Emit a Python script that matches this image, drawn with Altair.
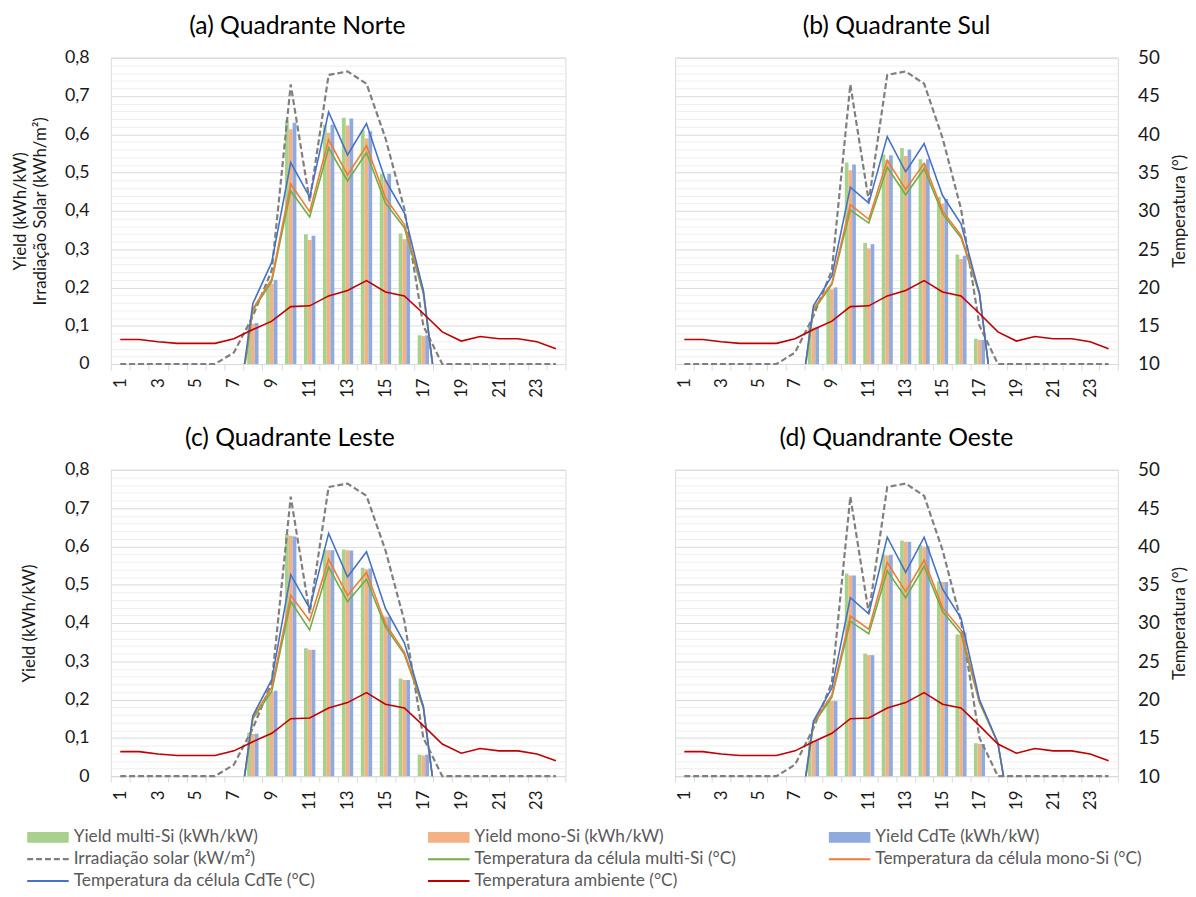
import altair as alt
import pandas as pd

# ---------------- data ----------------
HOURS = list(range(1, 25))

IRRADIACAO = [0, 0, 0, 0, 0, 0, 0.03, 0.125, 0.245, 0.73, 0.425, 0.755,
              0.764, 0.732, 0.59, 0.405, 0.1, 0, 0, 0, 0, 0, 0, 0]
T_AMBIENTE = [13.2, 13.2, 12.9, 12.7, 12.7, 12.7, 13.3, 14.5, 15.6, 17.5, 17.6, 18.9,
              19.6, 20.9, 19.4, 18.9, 16.6, 14.2, 13.0, 13.6, 13.3, 13.3, 12.9, 12.0]

N7 = [0] * 7
# (a) Norte
NORTE_Y_MULTI = N7 + [0.105, 0.21, 0.636, 0.339, 0.625, 0.643, 0.611, 0.497, 0.341, 0.075] + N7
NORTE_Y_MONO = N7 + [0.105, 0.21, 0.613, 0.324, 0.604, 0.623, 0.589, 0.481, 0.326, 0.073] + N7
NORTE_Y_CDTE = N7 + [0.107, 0.22, 0.630, 0.335, 0.625, 0.641, 0.608, 0.497, 0.335, 0.075] + N7
NORTE_T_MULTI = N7 + [17.0, 20.8, 32.6, 29.2, 38.2, 33.9, 37.6, 31.0, 27.8, 19.2] + N7
NORTE_T_MONO = N7 + [17.2, 21.1, 33.5, 29.9, 39.3, 34.7, 38.5, 31.7, 28.2, 19.6] + N7
NORTE_T_CDTE = N7 + [17.9, 23.3, 36.3, 31.8, 42.9, 37.3, 41.4, 34.0, 29.7, 19.6] + N7
# (b) Sul
SUL_Y_MULTI = N7 + [0.097, 0.2, 0.526, 0.316, 0.547, 0.564, 0.535, 0.436, 0.286, 0.066] + N7
SUL_Y_MONO = N7 + [0.095, 0.195, 0.506, 0.302, 0.532, 0.543, 0.523, 0.419, 0.274, 0.063] + N7
SUL_Y_CDTE = N7 + [0.097, 0.2, 0.521, 0.313, 0.545, 0.56, 0.535, 0.431, 0.283, 0.063] + N7
SUL_T_MULTI = N7 + [17.0, 20.4, 30.1, 28.4, 35.7, 32.1, 35.5, 29.6, 26.5, 19.1] + N7
SUL_T_MONO = N7 + [17.2, 20.6, 30.8, 28.9, 36.6, 32.8, 36.2, 30.0, 26.8, 19.3] + N7
SUL_T_CDTE = N7 + [17.6, 21.5, 33.1, 31.0, 39.7, 35.1, 38.8, 32.0, 28.3, 19.2] + N7
# (c) Leste
LESTE_Y_MULTI = N7 + [0.113, 0.225, 0.632, 0.334, 0.591, 0.592, 0.544, 0.42, 0.255, 0.056] + N7
LESTE_Y_MONO = N7 + [0.11, 0.22, 0.628, 0.33, 0.59, 0.59, 0.54, 0.417, 0.251, 0.054] + N7
LESTE_Y_CDTE = N7 + [0.111, 0.223, 0.626, 0.33, 0.59, 0.589, 0.542, 0.416, 0.251, 0.056] + N7
LESTE_T_MULTI = N7 + [17.5, 21.1, 32.8, 29.1, 37.3, 32.8, 35.7, 29.5, 25.9, 18.9] + N7
LESTE_T_MONO = N7 + [17.7, 21.6, 33.6, 30.3, 38.3, 33.6, 36.6, 29.9, 26.2, 19.1] + N7
LESTE_T_CDTE = N7 + [17.9, 22.6, 36.3, 31.9, 41.7, 36.0, 39.3, 31.9, 27.4, 19.1] + N7
# (d) Oeste
OESTE_Y_MULTI = N7 + [0.093, 0.197, 0.529, 0.32, 0.579, 0.615, 0.603, 0.509, 0.37, 0.086] + N7
OESTE_Y_MONO = N7 + [0.092, 0.196, 0.524, 0.316, 0.576, 0.612, 0.599, 0.507, 0.37, 0.084] + N7
OESTE_Y_CDTE = N7 + [0.093, 0.196, 0.524, 0.316, 0.578, 0.612, 0.601, 0.507, 0.375, 0.084] + N7
OESTE_T_MULTI = N7 + [16.8, 20.3, 30.2, 28.6, 36.8, 33.3, 37.4, 31.5, 28.6, 19.6, 14.3] + [0] * 6
OESTE_T_MONO = N7 + [17.0, 20.6, 30.9, 29.2, 37.9, 34.1, 38.2, 32.0, 29.1, 19.8, 14.3] + [0] * 6
OESTE_T_CDTE = N7 + [17.2, 21.5, 33.3, 31.2, 41.2, 36.6, 41.2, 34.4, 30.6, 20.0, 14.3] + [0] * 6

TITLES = ["(a) Quadrante Norte", "(b) Quadrante Sul", "(c) Quadrante Leste", "(d) Quandrante Oeste"]
LEFT_TITLE_A = ["Yield (kWh/kW)", "Irradiação Solar (kWh/m²)"]
LEFT_TITLE_C = "Yield (kWh/kW)"
RIGHT_TITLE = "Temperatura (°)"

BAR_NAMES = ["Yield multi-Si (kWh/kW)", "Yield mono-Si (kWh/kW)", "Yield CdTe (kWh/kW)"]
LINE_NAMES = ["Irradiação solar (kW/m²)", "Temperatura da célula multi-Si (°C)",
              "Temperatura da célula mono-Si (°C)", "Temperatura da célula CdTe (°C)",
              "Temperatura ambiente (°C)"]
BAR_COLORS = ["#A9D18E", "#F4B183", "#8FAADC"]
LINE_COLORS = ["#7F7F7F", "#70AD47", "#ED7D31", "#4472C4", "#C00000"]

# ---------------- style ----------------
FONT = "Lato"
TEXT = "#1a1a1a"
GRID_MAJOR = "#D9D9D9"
GRID_MINOR = "#EFEFEF"
W1, W2, H = 460, 448, 310


def make_panel(title, yields, temps, width, left_title=None, left_title_pad=18,
               show_right=False, title_frame="bounds", title_dx=0):
    df = pd.DataFrame({
        "hour": HOURS,
        "y_multi": yields[0], "y_mono": yields[1], "y_cdte": yields[2],
        "irr": IRRADIACAO,
        "t_multi": temps[0], "t_mono": temps[1], "t_cdte": temps[2],
        "t_amb": T_AMBIENTE,
    })
    base = alt.Chart(df)

    xscale = alt.Scale(domain=[0.5, 24.5], nice=False, zero=False)
    xaxis = alt.Axis(
        values=[h - 0.5 for h in HOURS] + [24.5],
        labelExpr="(datum.value + 0.5) % 2 == 1 && datum.value < 24 ? format(datum.value + 0.5, 'd') : ''",
        labelOffset=width / 48, labelAngle=270, labelOverlap=False, labelFlush=False,
        tickSize=6, tickColor=GRID_MAJOR, tickWidth=1, domain=False, grid=False,
        title=None, labelFontSize=17, labelPadding=8, labelColor=TEXT,
    )
    yscale_l = alt.Scale(domain=[0, 0.8], nice=False)
    if left_title is not None:
        yaxis_l = alt.Axis(
            values=[i / 10 for i in range(9)],
            labelExpr="datum.value == 0 ? '0' : replace(format(datum.value, '.1f'), '.', ',')",
            ticks=False, domain=False, grid=False, labelFontSize=18, labelPadding=22,
            labelColor=TEXT, title=left_title, titleFontSize=17, titlePadding=left_title_pad,
            titleLineHeight=20, titleColor=TEXT, titleFontWeight="normal", minExtent=0,
        )
    else:
        yaxis_l = None

    yscale_r = alt.Scale(domain=[10, 50], nice=False, zero=False)
    yaxis_r = alt.Axis(
        orient="right", values=list(range(10, 51)), grid=True,
        gridColor={"condition": {"test": "datum.value % 5 === 0", "value": GRID_MAJOR},
                   "value": GRID_MINOR},
        gridWidth=1, ticks=False, domain=False, labels=show_right,
        labelExpr="datum.value % 5 === 0 ? format(datum.value, 'd') : ''",
        labelOverlap=False, labelFontSize=19, labelPadding=20, labelColor=TEXT,
        title=RIGHT_TITLE if show_right else None, titleAngle=270, titleBaseline="top",
        titleFontSize=17, titlePadding=12, titleColor=TEXT, titleFontWeight="normal",
        minExtent=0,
    )

    bars = base.transform_fold(
        ["y_multi", "y_mono", "y_cdte"], as_=["serie", "val"]
    ).transform_calculate(
        k="indexof(['y_multi','y_mono','y_cdte'], datum.serie)",
        x0="datum.hour - 0.3 + 0.2 * datum.k",
        x1="datum.hour - 0.1 + 0.2 * datum.k",
        y0="0",
    ).mark_rect().encode(
        x=alt.X("x0:Q", scale=xscale, axis=xaxis),
        x2="x1:Q",
        y=alt.Y("val:Q", scale=yscale_l, axis=yaxis_l),
        y2="y0:Q",
        color=alt.Color("serie:N", scale=alt.Scale(domain=["y_multi", "y_mono", "y_cdte"],
                                                   range=BAR_COLORS), legend=None),
    )
    irr = base.mark_line(color=LINE_COLORS[0], strokeDash=[6, 3], strokeWidth=2.2).encode(
        x=alt.X("hour:Q", scale=xscale, axis=xaxis),
        y=alt.Y("irr:Q", scale=yscale_l, axis=yaxis_l),
    )
    temp_layers = []
    for col, color in zip(["t_multi", "t_mono", "t_cdte", "t_amb"], LINE_COLORS[1:]):
        temp_layers.append(
            base.mark_line(color=color, strokeWidth=1.6, clip=True).encode(
                x=alt.X("hour:Q", scale=xscale, axis=xaxis),
                y=alt.Y(f"{col}:Q", scale=yscale_r, axis=yaxis_r),
            )
        )
    left = alt.layer(bars, irr)
    right = alt.layer(*temp_layers)
    return alt.layer(left, right).resolve_scale(y="independent").properties(
        width=width, height=H,
        title=alt.TitleParams(title, fontSize=25, font=FONT, fontWeight="normal",
                              color="#000000", offset=10, anchor="middle", frame=title_frame,
                              dx=title_dx),
    )


pa = make_panel(TITLES[0], [NORTE_Y_MULTI, NORTE_Y_MONO, NORTE_Y_CDTE],
                [NORTE_T_MULTI, NORTE_T_MONO, NORTE_T_CDTE], W1,
                left_title=LEFT_TITLE_A, left_title_pad=15, title_frame="bounds")
pb = make_panel(TITLES[1], [SUL_Y_MULTI, SUL_Y_MONO, SUL_Y_CDTE],
                [SUL_T_MULTI, SUL_T_MONO, SUL_T_CDTE], W2,
                show_right=True, title_frame="group")
pc = make_panel(TITLES[2], [LESTE_Y_MULTI, LESTE_Y_MONO, LESTE_Y_CDTE],
                [LESTE_T_MULTI, LESTE_T_MONO, LESTE_T_CDTE], W1,
                left_title=LEFT_TITLE_C, left_title_pad=26, title_frame="bounds",
                title_dx=-12)
pd_ = make_panel(TITLES[3], [OESTE_Y_MULTI, OESTE_Y_MONO, OESTE_Y_CDTE],
                 [OESTE_T_MULTI, OESTE_T_MONO, OESTE_T_CDTE], W2,
                 show_right=True, title_frame="group")

grid = alt.concat(pa, pb, pc, pd_, columns=2, spacing={"row": 27, "column": 91}).resolve_scale(
    color="independent")

# ---------------- legend ----------------
# the legend view's origin is aligned with the plot origin of panel (a);
# the scale maps column 0 to the left of that origin
ALL_NAMES = BAR_NAMES + LINE_NAMES
ALL_COLORS = BAR_COLORS + LINE_COLORS
KINDS = ["bar"] * 3 + ["dash"] + ["line"] * 4
leg_df = pd.DataFrame({
    "name": ALL_NAMES,
    "kind": KINDS,
    "col": [i % 3 for i in range(len(ALL_NAMES))],
    "row": [i // 3 for i in range(len(ALL_NAMES))],
})
LEG_W = 900
lx = alt.X("col:Q", scale=alt.Scale(domain=[0.2085, 2.4275], nice=False, zero=False), axis=None)
ly = alt.Y("row:Q", scale=alt.Scale(domain=[0, 2], reverse=True, nice=False), axis=None)
lcolor = alt.Color("name:N", scale=alt.Scale(domain=ALL_NAMES, range=ALL_COLORS), legend=None)
lbase = alt.Chart(leg_df)
leg_bar = lbase.transform_filter("datum.kind == 'bar'").mark_rule(
    x2Offset=42, strokeWidth=11, strokeCap="butt").encode(x=lx, x2="col:Q", y=ly, color=lcolor)
leg_dash = lbase.transform_filter("datum.kind == 'dash'").mark_rule(
    x2Offset=42, strokeWidth=2.2, strokeDash=[6, 3]).encode(x=lx, x2="col:Q", y=ly, color=lcolor)
leg_line = lbase.transform_filter("datum.kind == 'line'").mark_rule(
    x2Offset=42, strokeWidth=2).encode(x=lx, x2="col:Q", y=ly, color=lcolor)
leg_text = lbase.mark_text(align="left", baseline="middle", dx=47, fontSize=17.5,
                           color="#595959", font=FONT).encode(x=lx, y=ly, text="name:N")
legend = alt.layer(leg_bar, leg_dash, leg_line, leg_text).properties(
    width=LEG_W, height=44, view=alt.ViewBackground(strokeOpacity=0))

chart = alt.vconcat(grid, legend, spacing=18,
                    padding={"left": 3, "top": 0, "right": 0, "bottom": 0}).resolve_scale(
    color="independent").configure(font=FONT).configure_view(stroke=GRID_MAJOR, strokeWidth=1)

chart.save("out.html", embed_options={"renderer": "svg", "actions": False})
